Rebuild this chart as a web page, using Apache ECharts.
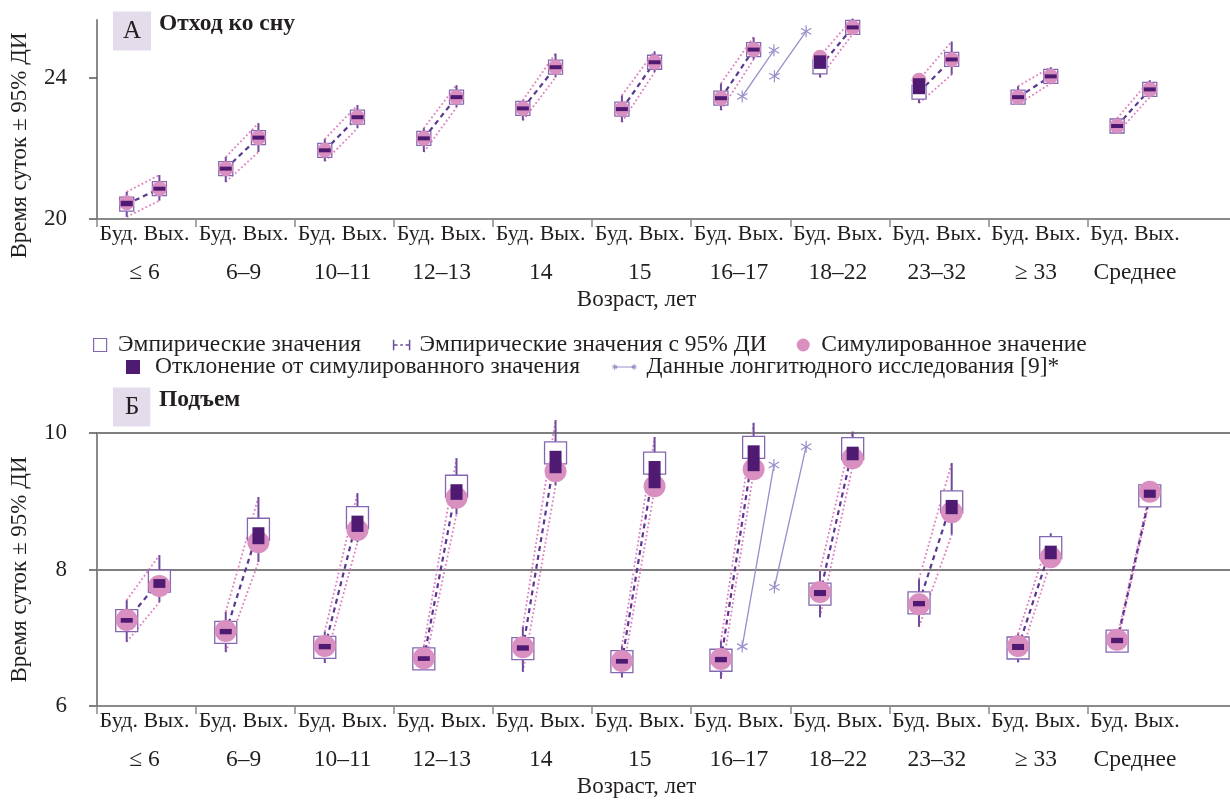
<!DOCTYPE html>
<html>
<head>
<meta charset="utf-8">
<script src="https://cdn.jsdelivr.net/npm/echarts@6/dist/echarts.min.js"></script>
<style>
html,body{margin:0;padding:0;background:#fff;}
#chart{width:1230px;height:801px;}
</style>
</head>
<body>
<div id="chart"></div>
<script>
// ---------- DATA ----------
const groups = ['≤ 6', '6–9', '10–11', '12–13', '14', '15', '16–17', '18–22', '23–32', '≥ 33', 'Среднее'];
const dayLabel = 'Буд. Вых.';
const xName = 'Возраст, лет';
const yName = 'Время суток ± 95% ДИ';

// A: bedtime (hours of day)
const bedEmpWd = [20.42, 21.43, 21.95, 22.29, 23.14, 23.12, 23.43, 24.32, 23.60, 23.46, 22.64];
const bedEmpWe = [20.86, 22.31, 22.89, 23.46, 24.31, 24.45, 24.81, 25.44, 24.53, 24.05, 23.68];
const bedSimWd = [20.46, 21.43, 21.95, 22.29, 23.14, 23.12, 23.43, 24.59, 23.94, 23.46, 22.64];
const bedSimWe = [20.86, 22.31, 22.89, 23.46, 24.31, 24.45, 24.81, 25.44, 24.53, 24.05, 23.68];
const bedLoWd  = [20.06, 21.05, 21.64, 21.90, 22.80, 22.75, 23.09, 24.02, 23.29, 23.26, 22.44];
const bedHiWd  = [20.77, 21.76, 22.27, 22.58, 23.37, 23.51, 23.85, 24.62, 23.95, 23.77, 22.86];
const bedLoWe  = [20.52, 21.90, 22.58, 23.17, 24.02, 24.17, 24.53, 25.25, 24.10, 23.85, 23.46];
const bedHiWe  = [21.25, 22.72, 23.23, 23.80, 24.70, 24.76, 25.16, 25.69, 25.04, 24.31, 23.94];
const longBedWd = [23.48, 24.05];
const longBedWe = [24.79, 25.33];

// Б: wake-up time
const wakeEmpWd = [7.25, 7.08, 6.86, 6.69, 6.84, 6.65, 6.67, 7.64, 7.51, 6.85, 6.95];
const wakeEmpWe = [7.83, 8.59, 8.76, 9.22, 9.71, 9.56, 9.79, 9.77, 8.99, 8.32, 9.08];
const wakeSimWd = [7.26, 7.10, 6.88, 6.70, 6.86, 6.66, 6.69, 7.67, 7.49, 6.88, 6.97];
const wakeSimWe = [7.76, 8.40, 8.58, 9.05, 9.44, 9.22, 9.47, 9.63, 8.84, 8.18, 9.14];
const wakeLoWd  = [6.94, 6.79, 6.63, 6.55, 6.50, 6.42, 6.40, 7.30, 7.16, 6.64, 6.90];
const wakeHiWd  = [7.55, 7.38, 7.09, 6.88, 7.16, 6.88, 6.95, 7.98, 7.86, 7.06, 7.00];
const wakeLoWe  = [7.52, 8.11, 8.40, 8.81, 9.23, 9.18, 9.43, 9.52, 8.51, 8.11, 9.03];
const wakeHiWe  = [8.21, 9.06, 9.12, 9.63, 10.19, 9.94, 10.15, 10.02, 9.56, 8.53, 9.13];
const longWakeWd = [6.87, 7.74];
const longWakeWe = [9.53, 9.80];

const longGroupIndex = 6; // longitudinal data drawn in the 16–17 group

// ---------- STYLE / LAYOUT ----------
const FONT = 'Liberation Serif';
const TXT = '#231f20';
const C_BOX = '#8466b1';
const C_ERR = '#6d4c9c';
const C_DASH = '#5a3790';
const C_PINK_LINE = '#df7fc0';
const C_SIM = '#d98fbf';
const C_DEV = '#4e1a72';
const C_LONG = '#9b8dc9';
const C_AXIS = '#8a8a8a';
const C_GRID = '#555555';
const XW = 0.30, XV = 0.63;       // positions of weekday / weekend inside a group
const X_MAX = 11.44;

const sizes = [
  {box: 14, circle: 15, devW: 12},
  {box: 22, circle: 22, devW: 12}
];

const sets = [
  {empWd: bedEmpWd, empWe: bedEmpWe, simWd: bedSimWd, simWe: bedSimWe, loWd: bedLoWd, hiWd: bedHiWd, loWe: bedLoWe, hiWe: bedHiWe, lWd: longBedWd, lWe: longBedWe},
  {empWd: wakeEmpWd, empWe: wakeEmpWe, simWd: wakeSimWd, simWe: wakeSimWe, loWd: wakeLoWd, hiWd: wakeHiWd, loWe: wakeLoWe, hiWe: wakeHiWe, lWd: longWakeWd, lWe: longWakeWe}
];

function seg(a, b, style) {
  return {type: 'line', shape: {x1: a[0], y1: a[1], x2: b[0], y2: b[1]}, style: style};
}
function star(p, r, color) {
  const ch = [];
  for (let k = 0; k < 3; k++) {
    const ang = Math.PI / 2 + k * Math.PI / 3;
    const dx = Math.cos(ang) * r, dy = Math.sin(ang) * r;
    ch.push(seg([p[0] - dx, p[1] - dy], [p[0] + dx, p[1] + dy], {stroke: color, lineWidth: 1.2}));
  }
  return ch;
}

function chartSeries(ci) {
  const d = sets[ci], s = sizes[ci];
  const data = groups.map((g, i) => [i, d.empWd[i], d.empWe[i], d.simWd[i], d.simWe[i], d.loWd[i], d.hiWd[i], d.loWe[i], d.hiWe[i]]);
  const common = {type: 'custom', xAxisIndex: ci, yAxisIndex: ci, data: data, clip: false, silent: true};
  const longData = d.lWd.map((v, k) => [k, v, d.lWe[k]]);
  return [
    Object.assign({}, common, {
      name: 'band', z: 2,
      renderItem: (p, api) => {
        const i = api.value(0);
        const st = {stroke: C_PINK_LINE, lineWidth: 1.8, lineDash: [1.8, 2.4]};
        return {type: 'group', children: [
          seg(api.coord([i + XW, api.value(6)]), api.coord([i + XV, api.value(8)]), st),
          seg(api.coord([i + XW, api.value(5)]), api.coord([i + XV, api.value(7)]), st)
        ]};
      }
    }),
    Object.assign({}, common, {
      name: 'Эмпирические значения с 95% ДИ', z: 3,
      itemStyle: {color: C_ERR},
      renderItem: (p, api) => {
        const i = api.value(0);
        const a = api.coord([i + XW, api.value(1)]), b = api.coord([i + XV, api.value(2)]);
        const eb = {stroke: C_ERR, lineWidth: 2};
        return {type: 'group', children: [
          seg(a, b, {stroke: C_DASH, lineWidth: 2.2, lineDash: [5, 4]}),
          seg(api.coord([i + XW, api.value(5)]), api.coord([i + XW, api.value(6)]), eb),
          seg(api.coord([i + XV, api.value(7)]), api.coord([i + XV, api.value(8)]), eb)
        ]};
      }
    }),
    Object.assign({}, common, {
      name: 'Эмпирические значения', z: 4,
      itemStyle: {color: C_BOX},
      renderItem: (p, api) => {
        const i = api.value(0), h = s.box / 2;
        const ch = [[XW, 1], [XV, 2]].map(([o, dim]) => {
          const c = api.coord([i + o, api.value(dim)]);
          return {type: 'rect', shape: {x: c[0] - h, y: c[1] - h, width: s.box, height: s.box},
                  style: {fill: '#fff', stroke: C_BOX, lineWidth: 1.3}};
        });
        return {type: 'group', children: ch};
      }
    }),
    Object.assign({}, common, {
      name: 'Симулированное значение', z: 5,
      itemStyle: {color: C_SIM},
      renderItem: (p, api) => {
        const i = api.value(0);
        const ch = [[XW, 3], [XV, 4]].map(([o, dim]) => {
          const c = api.coord([i + o, api.value(dim)]);
          return {type: 'circle', shape: {cx: c[0], cy: c[1], r: s.circle / 2}, style: {fill: C_SIM}};
        });
        return {type: 'group', children: ch};
      }
    }),
    Object.assign({}, common, {
      name: 'Отклонение от симулированного значения', z: 6,
      itemStyle: {color: C_DEV},
      renderItem: (p, api) => {
        const i = api.value(0);
        const ch = [[XW, 1, 3], [XV, 2, 4]].map(([o, de, dsim]) => {
          const e = api.coord([i + o, api.value(de)]), m = api.coord([i + o, api.value(dsim)]);
          const top = Math.min(e[1], m[1]) - 2, hgt = Math.abs(e[1] - m[1]) + 4;
          return {type: 'rect', shape: {x: e[0] - s.devW / 2, y: top, width: s.devW, height: hgt}, style: {fill: C_DEV}};
        });
        return {type: 'group', children: ch};
      }
    }),
    {
      type: 'custom', xAxisIndex: ci, yAxisIndex: ci, clip: false, silent: true, z: 3,
      name: 'Данные лонгитюдного исследования [9]*',
      itemStyle: {color: C_LONG},
      data: longData,
      renderItem: (p, api) => {
        const k = api.value(0);
        const x0 = longGroupIndex + 0.515 + 0.325 * k;
        const a = api.coord([x0, api.value(1)]), b = api.coord([x0 + 0.32, api.value(2)]);
        return {type: 'group', children: [seg(a, b, {stroke: C_LONG, lineWidth: 1.3})]
          .concat(star(a, 6, C_LONG)).concat(star(b, 6, C_LONG))};
      }
    }
  ];
}

const labelVals = groups.map((g, i) => i + 0.48);
const tickVals = groups.map((g, i) => i);

function xAxisFor(ci) {
  return {
    type: 'value', gridIndex: ci, min: 0, max: X_MAX,
    axisLine: {show: true, lineStyle: {color: C_AXIS, width: 2}},
    axisTick: {show: true, customValues: tickVals, length: 8, lineStyle: {color: C_AXIS, width: 1.5}},
    splitLine: {show: false},
    axisLabel: {
      customValues: labelVals, margin: 6, color: TXT, fontFamily: FONT,
      formatter: (v) => '{a|' + dayLabel + '}\n{b|' + groups[Math.round(v - 0.48)] + '}',
      rich: {
        a: {fontFamily: FONT, fontSize: 22, color: TXT, lineHeight: 18},
        b: {fontFamily: FONT, fontSize: 23.5, color: TXT, lineHeight: 60}
      }
    },
    name: xName, nameLocation: 'middle', nameGap: 69,
    nameTextStyle: {fontFamily: FONT, fontSize: 23, color: TXT, padding: [0, 54, 0, 0]}
  };
}

function yAxisFor(ci, min, max, interval, ticks, namePad) {
  return {
    type: 'value', gridIndex: ci, min: min, max: max, interval: interval,
    axisLine: {show: true, lineStyle: {color: C_AXIS, width: 2}},
    axisTick: {show: true, customValues: ticks, length: 8, lineStyle: {color: C_GRID, width: 1.5}},
    axisLabel: {customValues: ticks, margin: 30, color: TXT, fontFamily: FONT, fontSize: 23},
    splitLine: {show: true, showMinLine: false, showMaxLine: ci === 1, lineStyle: {color: C_GRID, width: 1.5}},
    name: yName, nameLocation: 'middle', nameGap: 66,
    nameTextStyle: {fontFamily: FONT, fontSize: 23, color: TXT, padding: namePad}
  };
}

const titleBox = {fontFamily: FONT, fontSize: 25, fontWeight: 'normal', color: TXT, lineHeight: 24};
const titleBold = {fontFamily: FONT, fontSize: 23.5, fontWeight: 'bold', color: TXT};
const legendText = {
  fontFamily: FONT, fontSize: 23.5, color: TXT,
  rich: {t: {fontFamily: FONT, fontSize: 23.5, color: TXT, padding: [0, 0, 0, 5]}}
};

const option = {
  animation: false,
  backgroundColor: '#fff',
  textStyle: {fontFamily: FONT, color: TXT},
  title: [
    {text: 'А', left: 113, top: 12, backgroundColor: '#e3dcea', padding: [7, 10, 7, 10], textStyle: titleBox},
    {text: 'Отход ко сну', left: 159, top: 12, padding: 0, textStyle: titleBold},
    {text: 'Б', left: 113, top: 388, backgroundColor: '#e3dcea', padding: [7, 11, 7, 12], textStyle: titleBox},
    {text: 'Подъем', left: 159, top: 388, padding: 0, textStyle: titleBold}
  ],
  legend: [
    {
      left: 88, top: 328, itemWidth: 16, itemHeight: 13, itemGap: 30, orient: 'horizontal',
      formatter: '{t|{name}}', textStyle: legendText,
      data: [
        {name: 'Эмпирические значения', icon: 'path://M0,0H10V10H0Z', itemStyle: {color: '#fff', borderColor: C_BOX, borderWidth: 1.2}},
        {name: 'Эмпирические значения с 95% ДИ', icon: 'path://M0,0V8M0,4H3M5,4H7M9,4H12M12,0V8', itemStyle: {color: 'none', borderColor: C_ERR, borderWidth: 1.5}},
        {name: 'Симулированное значение', icon: 'circle', itemStyle: {color: C_SIM}}
      ]
    },
    {
      left: 121, top: 350, itemWidth: 24, itemHeight: 14, itemGap: 30, orient: 'horizontal',
      formatter: '{t|{name}}', textStyle: legendText,
      data: [
        {name: 'Отклонение от симулированного значения', icon: 'path://M0,0H10V10H0Z', itemStyle: {color: C_DEV}},
        {name: 'Данные лонгитюдного исследования [9]*', icon: 'path://M0,4H22M0,1V7M-2.6,2.5L2.6,5.5M-2.6,5.5L2.6,2.5M22,1V7M19.4,2.5L24.6,5.5M19.4,5.5L24.6,2.5', itemStyle: {color: 'none', borderColor: C_LONG, borderWidth: 1.2}}
      ]
    }
  ],
  grid: [
    {left: 96, top: 20, width: 1134, height: 199},
    {left: 96, top: 433, width: 1134, height: 273}
  ],
  xAxis: [xAxisFor(0), xAxisFor(1)],
  yAxis: [
    yAxisFor(0, 20, 25.65, 4, [20, 24], [0, 52, 0, 0]),
    yAxisFor(1, 6, 10, 2, [6, 8, 10], 0)
  ],
  series: chartSeries(0).concat(chartSeries(1))
};

const chart = echarts.init(document.getElementById('chart'), null, {renderer: 'canvas'});
chart.setOption(option);
</script>
</body>
</html>
